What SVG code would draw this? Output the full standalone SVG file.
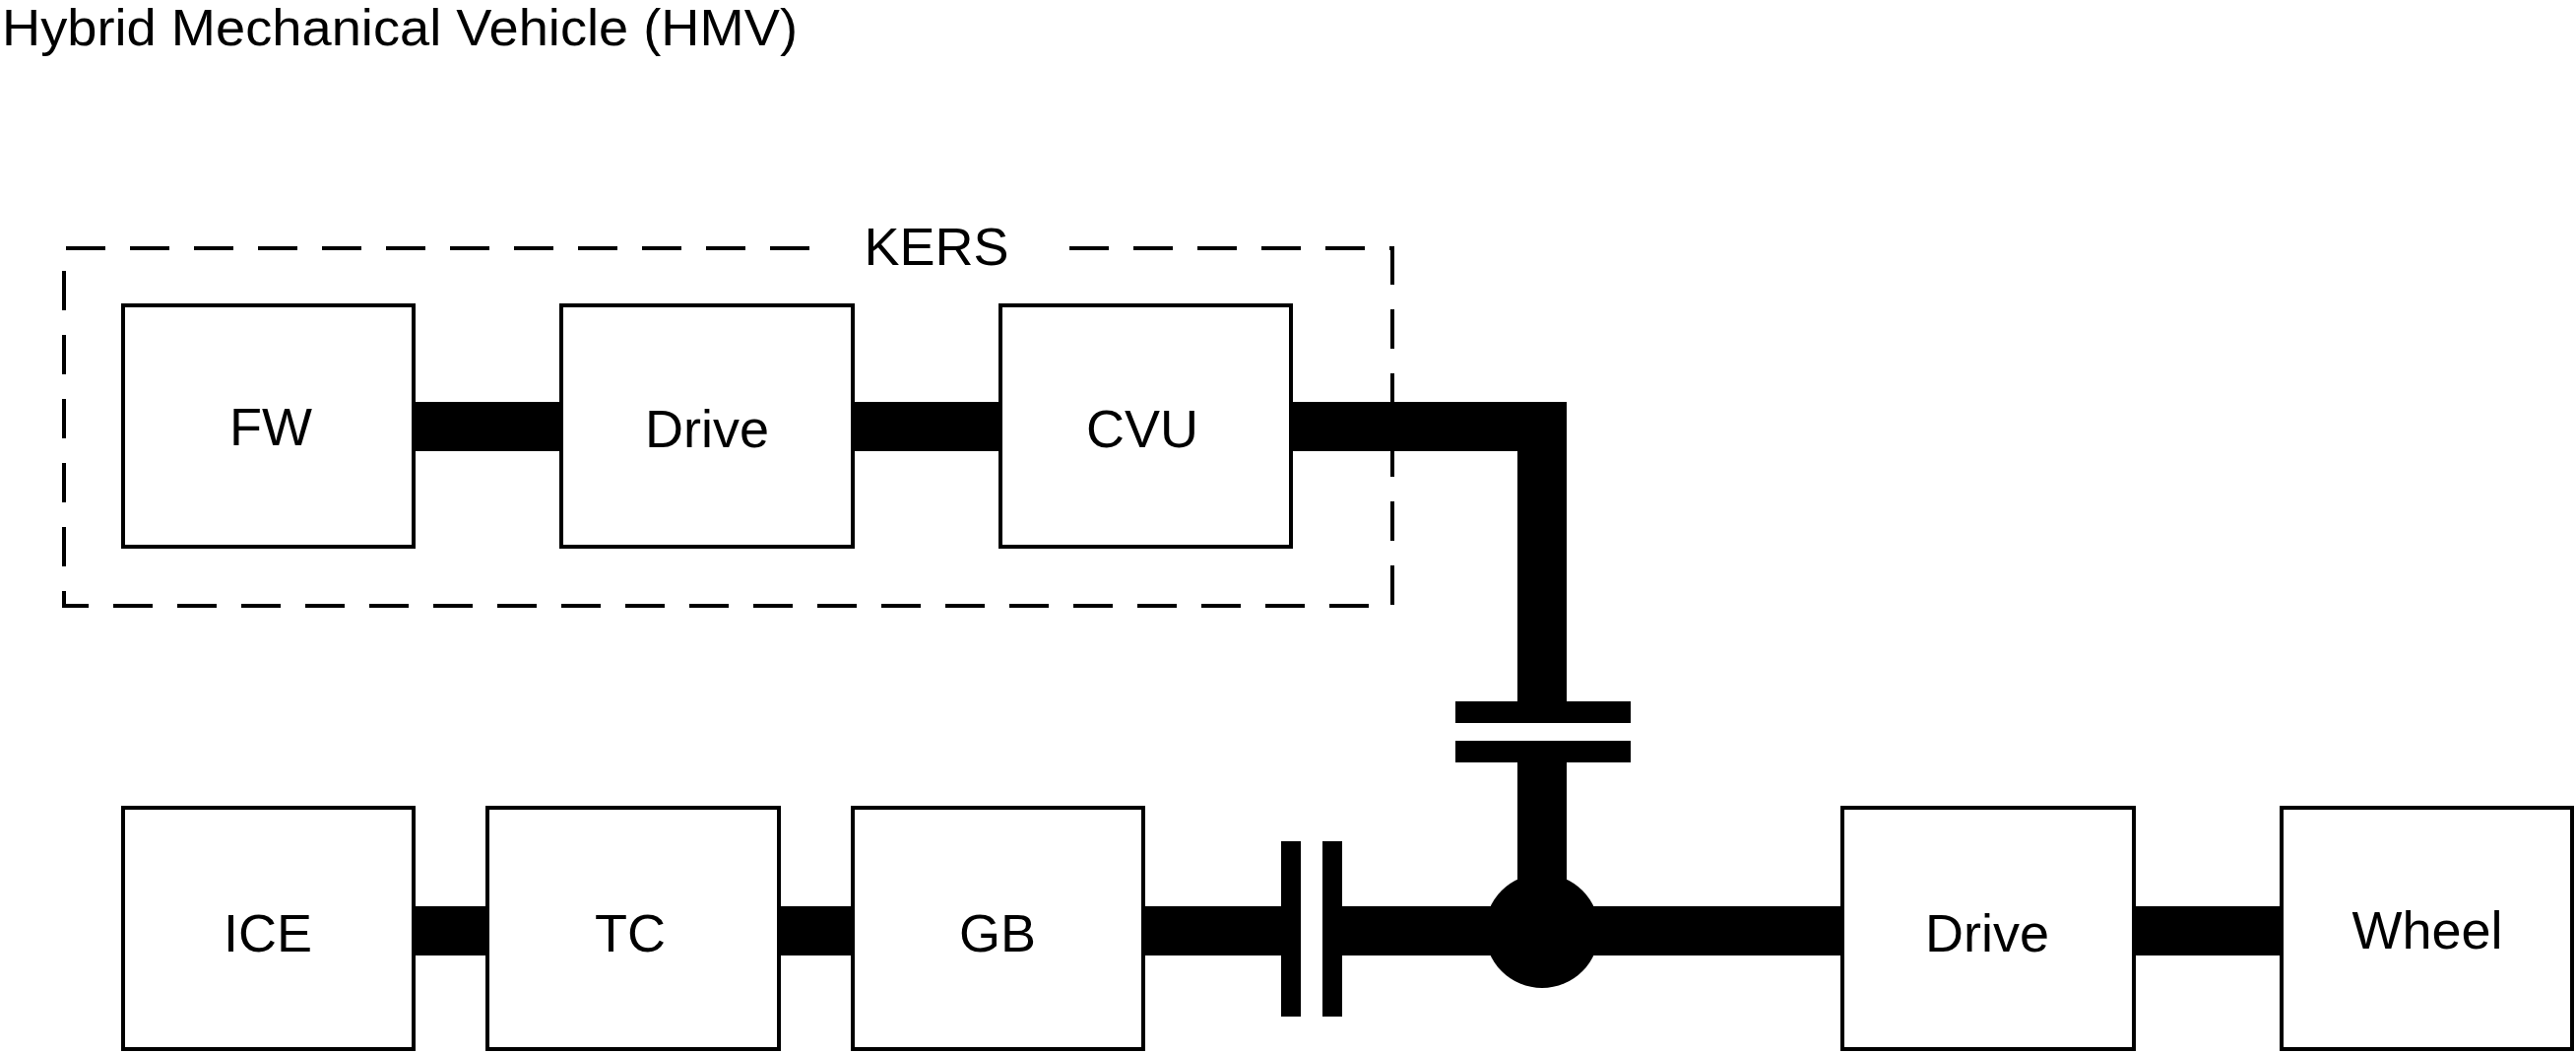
<svg xmlns="http://www.w3.org/2000/svg" width="2616" height="1070" viewBox="0 0 2616 1070">
<style>
.box{fill:#fff;stroke:#000;stroke-width:4}
.t{font-family:"Liberation Sans",Arial,sans-serif;font-size:54px;fill:#000;text-anchor:middle;dominant-baseline:central}
.dash{fill:none;stroke:#000;stroke-width:4;stroke-dasharray:40 25}
</style>
<rect width="2616" height="1070" fill="#fff"/>
<text x="2" y="46" font-family="Liberation Sans,Arial,sans-serif" font-size="52" fill="#000" textLength="808" lengthAdjust="spacingAndGlyphs">Hybrid Mechanical Vehicle (HMV)</text>
<g id="kers">
<path class="dash" d="M822 252 H65 V615 H1414 V252 H1084"/>
<text class="t" x="951" y="250">KERS</text>
</g>
<g id="connectors" fill="#000">
<rect x="420" y="408" width="150" height="50"/>
<rect x="866" y="408" width="150" height="50"/>
<path d="M1311 408 H1591 V712 H1541 V458 H1311 Z"/>
<rect x="1478" y="712" width="178" height="22"/>
<rect x="1478" y="752" width="178" height="22"/>
<rect x="1541" y="774" width="50" height="140"/>
<rect x="420" y="920" width="75" height="50"/>
<rect x="791" y="920" width="75" height="50"/>
<rect x="1161" y="920" width="140" height="50"/>
<rect x="1301" y="854" width="20" height="178"/>
<rect x="1343" y="854" width="20" height="178"/>
<rect x="1363" y="920" width="508" height="50"/>
<circle cx="1566" cy="945" r="58"/>
<rect x="2167" y="920" width="150" height="50"/>
</g>
<g id="fw"><rect class="box" x="125" y="310" width="295" height="245"/><text class="t" x="275" y="433">FW</text></g>
<g id="drive1"><rect class="box" x="570" y="310" width="296" height="245"/><text class="t" x="718" y="435">Drive</text></g>
<g id="cvu"><rect class="box" x="1016" y="310" width="295" height="245"/><text class="t" x="1160" y="435">CVU</text></g>
<g id="ice"><rect class="box" x="125" y="820" width="295" height="245"/><text class="t" x="272" y="947">ICE</text></g>
<g id="tc"><rect class="box" x="495" y="820" width="296" height="245"/><text class="t" x="640" y="947">TC</text></g>
<g id="gb"><rect class="box" x="866" y="820" width="295" height="245"/><text class="t" x="1013" y="947">GB</text></g>
<g id="drive2"><rect class="box" x="1871" y="820" width="296" height="245"/><text class="t" x="2018" y="947">Drive</text></g>
<g id="wheel"><rect class="box" x="2317" y="820" width="295" height="245"/><text class="t" x="2465" y="944">Wheel</text></g>
</svg>
